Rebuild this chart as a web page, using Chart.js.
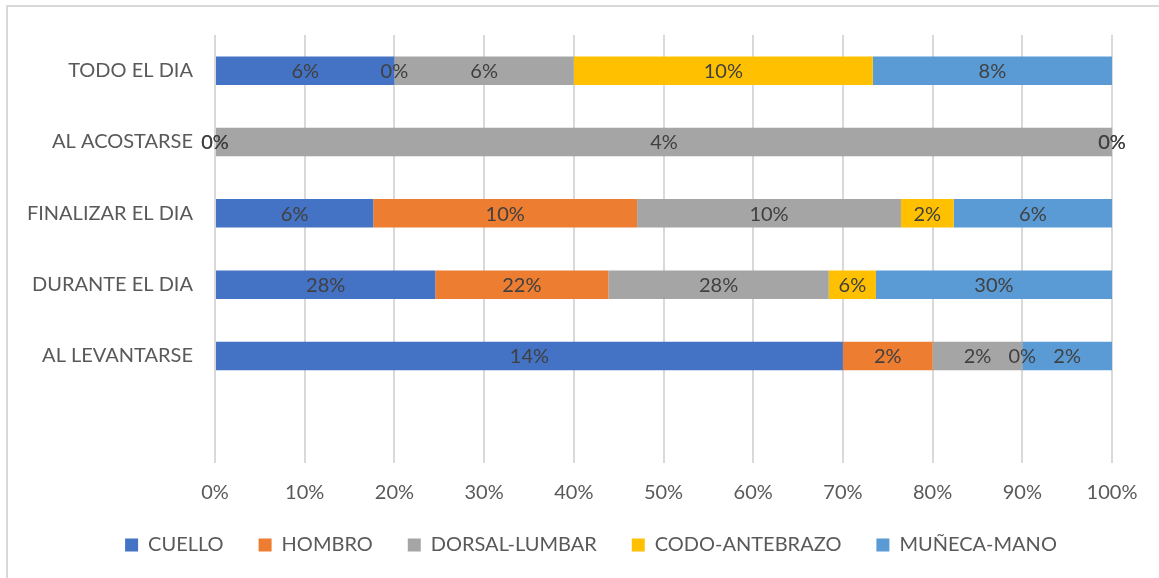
<!DOCTYPE html>
<html>
<head>
<meta charset="utf-8">
<script src="https://cdn.jsdelivr.net/npm/chart.js@4"></script>
<style>
  body { margin: 0; background: #fff; }
  #wrap { position: relative; width: 1159px; height: 578px; overflow: hidden; }
  #frame { position: absolute; left: 6px; top: 5px; width: 1200px; height: 640px; border: 2px solid #d9d9d9; }
  #myChart { position: absolute; left: 0; top: 0; }
</style>
</head>
<body>
<div id="wrap">
  <div id="frame"></div>
  <canvas id="myChart" width="1159" height="578"></canvas>
</div>
<script>
'use strict';

// categories from top to bottom (last one is the empty row in the original)
let momentos = ['TODO EL DIA', 'AL ACOSTARSE', 'FINALIZAR EL DIA', 'DURANTE EL DIA', 'AL LEVANTARSE', ''];

let cuello = [6, 0, 6, 28, 14, null];
let hombro = [0, 0, 10, 22, 2, null];
let dorsal = [6, 4, 10, 28, 2, null];
let codo = [10, 0, 2, 6, 0, null];
let muneca = [8, 0, 6, 30, 2, null];

let xTicks = ['0%', '10%', '20%', '30%', '40%', '50%', '60%', '70%', '80%', '90%', '100%'];

let series = [
    { name: 'CUELLO', values: cuello, color: '#4472C4' },
    { name: 'HOMBRO', values: hombro, color: '#ED7D31' },
    { name: 'DORSAL-LUMBAR', values: dorsal, color: '#A5A5A5' },
    { name: 'CODO-ANTEBRAZO', values: codo, color: '#FFC000' },
    { name: 'MUÑECA-MANO', values: muneca, color: '#5B9BD5' }
];

// 100% stacked: share of each row total
let totals = momentos.map((m, i) => series.reduce((s, d) => s + (d.values[i] || 0), 0));

let datasets = series.map(d => ({
    label: d.name,
    raw: d.values,
    data: d.values.map((v, i) => v === null ? null : (totals[i] ? v / totals[i] * 100 : 0)),
    backgroundColor: d.color,
    borderWidth: 0,
    barPercentage: 0.4,
    categoryPercentage: 1
}));

let fontFam = 'Lato, "Open Sans", sans-serif';

let barLabels = {
    id: 'barLabels',
    afterDatasetsDraw(chart) {
        let ctx = chart.ctx;
        ctx.save();
        ctx.font = '20px ' + fontFam;
        ctx.fillStyle = '#404040';
        ctx.textAlign = 'center';
        ctx.textBaseline = 'middle';
        chart.data.datasets.forEach((ds, di) => {
            let meta = chart.getDatasetMeta(di);
            meta.data.forEach((bar, i) => {
                if (ds.raw[i] === null) return;
                let cx = (bar.x + bar.base) / 2;
                ctx.fillText(ds.raw[i] + '%', cx, bar.y + 1);
            });
        });
        ctx.restore();
    }
};

// nudge the legend to the right, like the original
let legendShift = {
    id: 'legendShift',
    afterLayout(chart) {
        chart.legend.left += 35;
        chart.legend.right += 35;
    }
};

function chartRender() {
    let ctx = document.getElementById('myChart').getContext('2d');
    new Chart(ctx, {
        type: 'bar',
        data: { labels: momentos, datasets: datasets },
        plugins: [barLabels, legendShift],
        options: {
            indexAxis: 'y',
            responsive: false,
            animation: false,
            layout: { padding: { top: 35, right: 47, left: 0, bottom: 13 } },
            scales: {
                x: {
                    stacked: true,
                    min: 0,
                    max: 100,
                    border: { display: false },
                    grid: { color: '#d9d9d9', lineWidth: 2, drawTicks: false },
                    ticks: {
                        stepSize: 10,
                        padding: 18,
                        color: '#595959',
                        font: { size: 20, family: fontFam },
                        callback: (v, i) => xTicks[i]
                    },
                    afterFit: s => { s.height = 37; }
                },
                y: {
                    stacked: true,
                    border: { display: false },
                    grid: { display: false, drawTicks: false },
                    ticks: {
                        padding: 22,
                        color: '#595959',
                        font: { size: 20, family: fontFam }
                    },
                    afterFit: s => { s.width = 215; }
                }
            },
            plugins: {
                tooltip: { enabled: false },
                legend: {
                    position: 'bottom',
                    labels: {
                        boxWidth: 13,
                        boxHeight: 13,
                        padding: 35,
                        color: '#595959',
                        font: { size: 20, family: fontFam }
                    }
                }
            }
        }
    });
}
chartRender();
</script>
</body>
</html>
